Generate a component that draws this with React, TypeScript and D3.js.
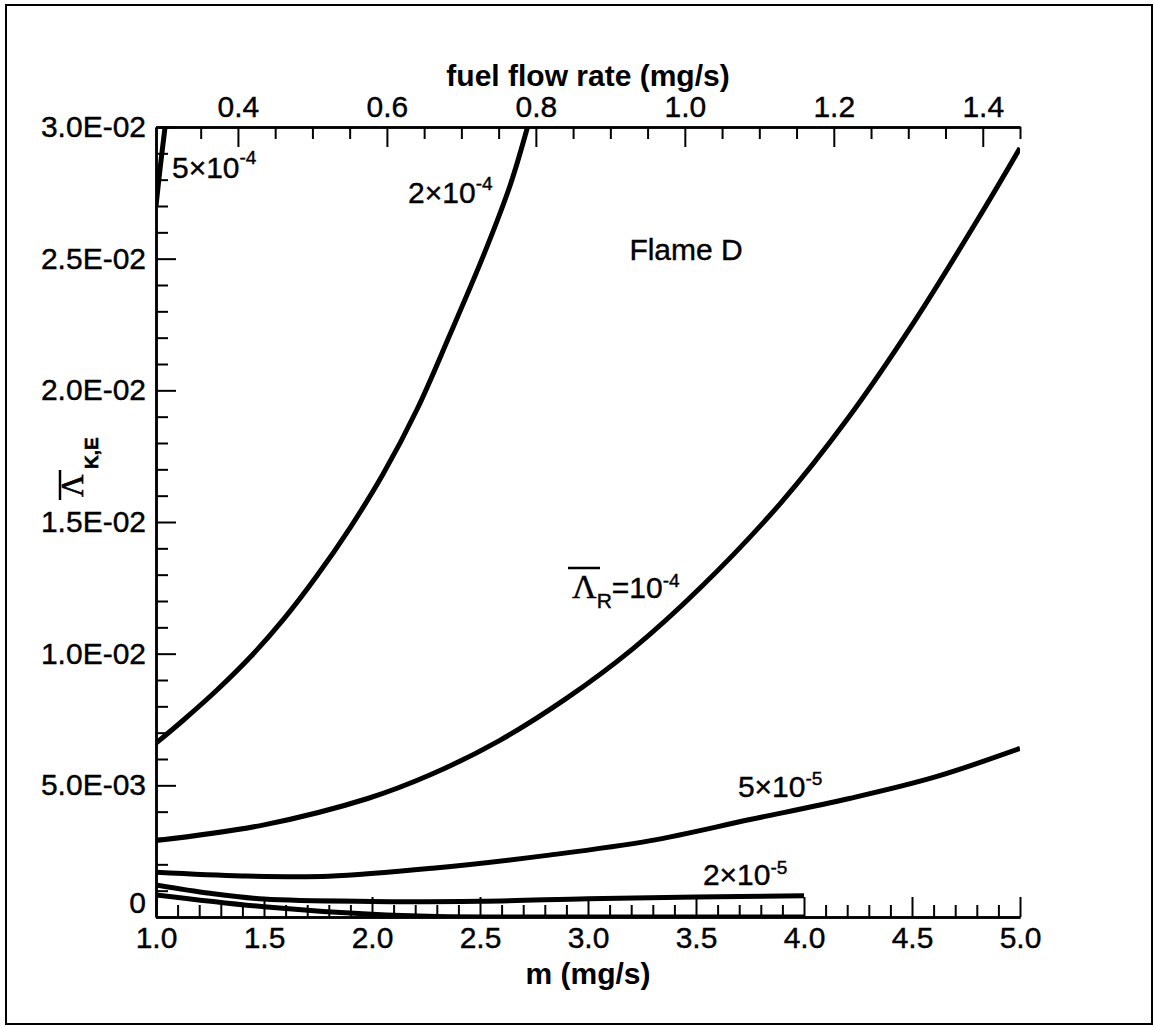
import React, { useRef, useEffect } from "react";
import * as d3 from "d3";

const curve5e4M = [1.0, 1.02, 1.042];
const curve5e4V = [0.027, 0.0285, 0.03];

const curve2e4M = [1.0, 1.13, 1.28, 1.44, 1.59, 1.74, 1.9, 2.05, 2.21, 2.36, 2.52, 2.64, 2.72];
const curve2e4V = [0.0066, 0.0075, 0.0086, 0.0099, 0.0113, 0.0129, 0.0148, 0.0168, 0.0193, 0.0221, 0.0252, 0.0278, 0.03];

const curve1e4M = [1.0, 1.5, 1.98, 2.27, 2.59, 2.9, 3.21, 3.52, 3.89, 4.2, 4.51, 4.82, 5.0];
const curve1e4V = [0.0029, 0.0035, 0.0045, 0.0054, 0.0067, 0.0083, 0.0102, 0.0125, 0.0157, 0.0189, 0.0226, 0.0267, 0.0292];

const curve5e5M = [1.0, 1.4, 1.8, 2.28, 2.82, 3.29, 3.75, 4.21, 4.6, 5.0];
const curve5e5V = [0.0017, 0.00156, 0.00155, 0.00185, 0.00235, 0.0029, 0.0037, 0.0045, 0.0053, 0.0064];

const curve2e5M = [1.0, 1.25, 1.5, 2.0, 2.5, 3.0, 3.5, 4.0];
const curve2e5V = [0.00122, 0.0009, 0.00068, 0.00059, 0.0006, 0.00069, 0.00076, 0.00081];

const curve1e5M = [1.0, 1.5, 2.0, 2.3, 3.0, 3.5, 4.0];
const curve1e5V = [0.00084, 0.00039, 0.0001, 0.00002, 0, 0, 0];

// tick values
const mMajorTicks = [1.0, 1.5, 2.0, 2.5, 3.0, 3.5, 4.0, 4.5, 5.0];
const fuelMajorTicks = [0.4, 0.6, 0.8, 1.0, 1.2, 1.4];
const yMajorTicks = [0, 0.005, 0.01, 0.015, 0.02, 0.025, 0.03];

// fuel flow rate is proportional to m
const fuelPerM = 0.29;

const W = 1155;
const H = 1027;

const fmtY = (v) => {
  if (v === 0) return "0";
  const [mant, ex] = v.toExponential(1).split("e");
  const n = Math.abs(+ex);
  return mant + "E" + (+ex < 0 ? "-" : "+") + (n < 10 ? "0" + n : n);
};

const App = () => {
  const svgRef = useRef(null);

  useEffect(() => {
    const svg = d3.select(svgRef.current);
    svg.selectAll("*").remove();

    const left = 156, right = 1020, top = 127, bottom = 917;
    const sans = "'Liberation Sans', Arial, Helvetica, sans-serif";
    const serif = "'Liberation Serif', 'Times New Roman', serif";

    const x = d3.scaleLinear().domain([1, 5]).range([left, right]);
    const xTop = d3.scaleLinear().domain([1 * fuelPerM, 5 * fuelPerM]).range([left, right]);
    const y = d3.scaleLinear().domain([0, 0.03]).range([bottom, top]);

    // outer frame
    svg.append("rect")
      .attr("x", 6).attr("y", 5).attr("width", W - 9).attr("height", H - 8)
      .attr("fill", "none").attr("stroke", "#000").attr("stroke-width", 2);

    const styleAxis = (g) => {
      g.attr("font-family", sans).attr("font-size", 30).attr("fill", "#000");
      g.select(".domain").attr("stroke", "#000").attr("stroke-width", 2.5);
      g.selectAll(".tick line").attr("stroke", "#000").attr("stroke-width", 2);
      g.selectAll(".tick text").attr("fill", "#000").attr("stroke", "#000").attr("stroke-width", 0.4);
    };

    // minor ticks
    const mMinor = d3.range(10, 51).map((d) => d / 10).filter((d) => !mMajorTicks.some((t) => Math.abs(t - d) < 1e-6));
    const fuelMinor = d3.range(30, 146, 5).map((d) => d / 100).filter((d) => !fuelMajorTicks.some((t) => Math.abs(t - d) < 1e-6));
    const yMinor = d3.range(0, 31).map((d) => d / 1000).filter((d) => !yMajorTicks.some((t) => Math.abs(t - d) < 1e-9));

    // bottom axis
    svg.append("g").attr("transform", `translate(0,${bottom})`)
      .call(d3.axisBottom(x).tickValues(mMinor).tickSize(-12).tickSizeOuter(0).tickFormat(() => ""))
      .call(styleAxis);
    svg.append("g").attr("transform", `translate(0,${bottom})`)
      .call(d3.axisBottom(x).tickValues(mMajorTicks).tickSize(-20).tickSizeOuter(0).tickPadding(10).tickFormat(d3.format(".1f")))
      .call(styleAxis);

    // top axis
    svg.append("g").attr("transform", `translate(0,${top})`)
      .call(d3.axisTop(xTop).tickValues(fuelMinor).tickSize(-12).tickSizeOuter(0).tickFormat(() => ""))
      .call(styleAxis);
    svg.append("g").attr("transform", `translate(0,${top})`)
      .call(d3.axisTop(xTop).tickValues(fuelMajorTicks).tickSize(-20).tickSizeOuter(0).tickPadding(10).tickFormat(d3.format(".1f")))
      .call(styleAxis);

    // left axis
    svg.append("g").attr("transform", `translate(${left},0)`)
      .call(d3.axisLeft(y).tickValues(yMinor).tickSize(-12).tickSizeOuter(0).tickFormat(() => ""))
      .call(styleAxis);
    const yAxis = svg.append("g").attr("transform", `translate(${left},0)`)
      .call(d3.axisLeft(y).tickValues(yMajorTicks).tickSize(-20).tickSizeOuter(0).tickPadding(10).tickFormat(fmtY))
      .call(styleAxis);
    // the zero label sits a little above its tick
    yAxis.selectAll(".tick text").filter((d) => d === 0).attr("y", -14);

    // axis titles
    svg.append("text")
      .attr("x", (left + right) / 2).attr("y", 86)
      .attr("text-anchor", "middle").attr("font-family", sans).attr("font-weight", "bold").attr("font-size", 30)
      .text("fuel flow rate (mg/s)");
    svg.append("text")
      .attr("x", (left + right) / 2).attr("y", 984)
      .attr("text-anchor", "middle").attr("font-family", sans).attr("font-weight", "bold").attr("font-size", 30)
      .text("m (mg/s)");

    const yTitle = svg.append("g").attr("transform", "translate(83,497) rotate(-90)");
    yTitle.append("line").attr("x1", -3).attr("x2", 27).attr("y1", -23).attr("y2", -23)
      .attr("stroke", "#000").attr("stroke-width", 2.5);
    const yt = yTitle.append("text").attr("x", 0).attr("y", 0).attr("stroke", "#000").attr("stroke-width", 0.6);
    yt.append("tspan").attr("font-family", serif).attr("font-size", 31).text("Λ");
    yt.append("tspan").attr("x", 28).attr("dy", 15).attr("font-family", sans).attr("font-weight", "bold").attr("font-size", 19).text("K,E");

    // curves
    svg.append("clipPath").attr("id", "plotClip")
      .append("rect").attr("x", left).attr("y", top).attr("width", right - left).attr("height", bottom - top);

    const curves = [
      [curve5e4M, curve5e4V],
      [curve2e4M, curve2e4V],
      [curve1e4M, curve1e4V],
      [curve5e5M, curve5e5V],
      [curve2e5M, curve2e5V],
      [curve1e5M, curve1e5V],
    ];
    const line = d3.line().x((d) => x(d[0])).y((d) => y(d[1])).curve(d3.curveCatmullRom.alpha(0.5));
    svg.append("g").attr("clip-path", "url(#plotClip)")
      .selectAll("path")
      .data(curves.map(([ms, vs]) => ms.map((m, i) => [m, vs[i]])))
      .enter()
      .append("path")
      .attr("d", line)
      .attr("fill", "none")
      .attr("stroke", "#000")
      .attr("stroke-width", 5);

    // curve labels, placed in data coordinates
    const power = (m, v, base, ex, supShift) => {
      const t = svg.append("text").attr("x", x(m)).attr("y", y(v))
        .attr("font-family", sans).attr("font-size", 30).attr("fill", "#000")
        .attr("stroke", "#000").attr("stroke-width", 0.4);
      t.append("tspan").text(base);
      t.append("tspan").attr("font-size", 19).attr("dy", -supShift).text(ex);
    };
    power(1.074, 0.02806, "5×10", "-4", 14);
    power(2.167, 0.02711, "2×10", "-4", 13);
    power(3.694, 0.00456, "5×10", "-5", 12);
    power(3.532, 0.00122, "2×10", "-5", 11);

    svg.append("text")
      .attr("x", x(3.454)).attr("y", y(0.02495))
      .attr("text-anchor", "middle").attr("font-family", sans).attr("font-size", 30)
      .attr("stroke", "#000").attr("stroke-width", 0.4)
      .text("Flame D");

    // Lambda_R = 10^-4 label
    const lx = x(2.926), ly = y(0.01211);
    svg.append("line").attr("x1", lx - 4).attr("x2", lx + 28).attr("y1", ly - 30).attr("y2", ly - 30)
      .attr("stroke", "#000").attr("stroke-width", 2.5);
    const lr = svg.append("text").attr("x", lx).attr("y", ly).attr("font-family", sans).attr("font-size", 30)
      .attr("stroke", "#000").attr("stroke-width", 0.4);
    lr.append("tspan").attr("font-family", serif).attr("font-size", 34).text("Λ");
    lr.append("tspan").attr("font-size", 21).attr("dy", 10).text("R");
    lr.append("tspan").attr("dy", -10).text("=10");
    lr.append("tspan").attr("font-size", 19).attr("dy", -11).text("-4");
  }, []);

  return (
    <svg
      ref={svgRef}
      width={W}
      height={H}
      style={{ position: "absolute", left: 0, top: 0, background: "#fff" }}
    ></svg>
  );
};

export default App;
